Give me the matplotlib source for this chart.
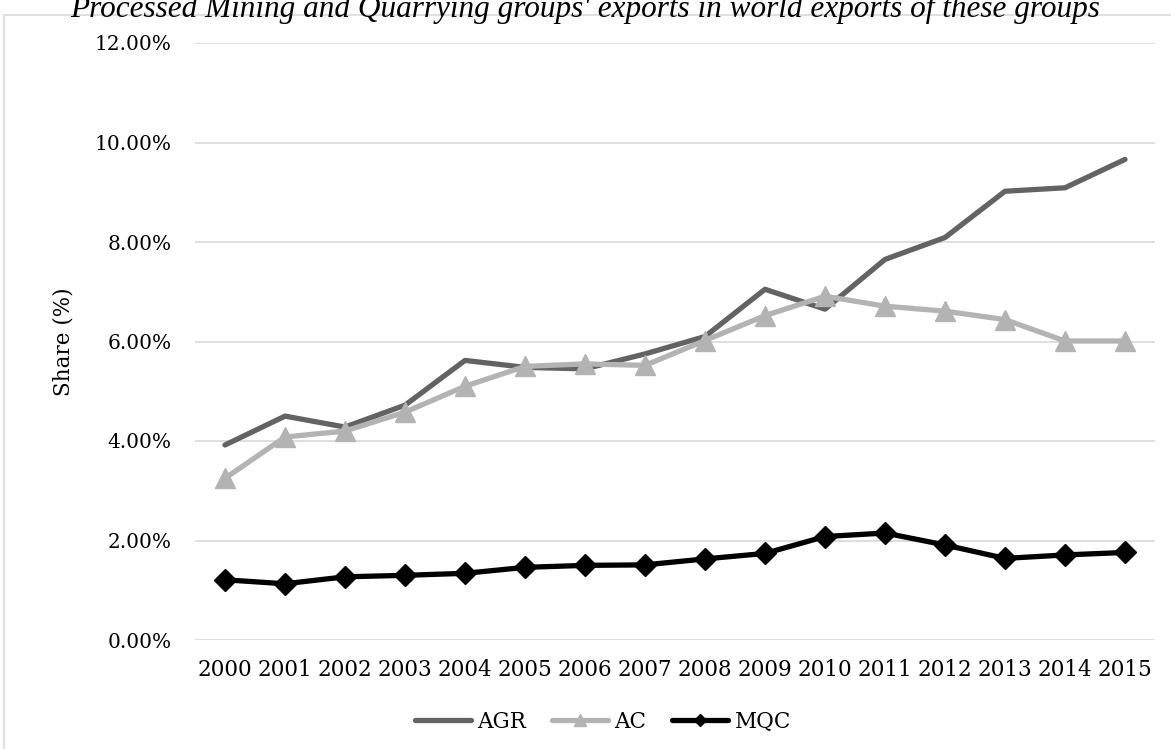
import matplotlib.pyplot as plt
from matplotlib.patches import Rectangle
from matplotlib.ticker import FuncFormatter

years = [str(y) for y in range(2000, 2016)]
agr = [3.92, 4.50, 4.28, 4.72, 5.62, 5.48, 5.45, 5.75, 6.10, 7.05,
       6.65, 7.65, 8.09, 9.02, 9.09, 9.66]
ac = [3.25, 4.08, 4.20, 4.58, 5.10, 5.50, 5.55, 5.52, 6.02, 6.52,
      6.91, 6.71, 6.61, 6.44, 6.01, 6.01]
mqc = [1.21, 1.13, 1.27, 1.30, 1.34, 1.46, 1.50, 1.51, 1.63, 1.74,
       2.08, 2.15, 1.91, 1.64, 1.71, 1.76]

plt.rcParams["font.family"] = ["DejaVu Serif"]

W, H = 1171, 749
fig = plt.figure(figsize=(W / 100, H / 100), dpi=100)
ax = fig.add_axes([195 / W, 1 - 640 / H, 960 / W, (640 - 43) / H])

# outer chart frame
fig.patches.append(Rectangle((4 / W, -0.05), 1.1, 1 - 15 / H + 0.05,
                             transform=fig.transFigure, fill=False,
                             edgecolor="#d9d9d9", linewidth=1.2))

x = list(range(len(years)))
ax.plot(x, agr, color="#636363", lw=3.8, solid_capstyle="round",
        solid_joinstyle="round", label="AGR")
ax.plot(x, ac, color="#b3b3b3", lw=3.8, marker="^", markersize=14,
        solid_capstyle="round", label="AC")
ax.plot(x, mqc, color="black", lw=3.8, marker="D", markersize=11,
        solid_capstyle="round", label="MQC")

ax.set_xlim(-0.5, len(years) - 0.5)
ax.set_ylim(0, 12)
ax.set_yticks(range(0, 13, 2))
ax.yaxis.set_major_formatter(FuncFormatter(lambda v, p: f"{v:.2f}%"))
ax.set_xticks(x)
ax.set_xticklabels(years)
ax.grid(axis="y", color="#d9d9d9", lw=1.2)
ax.set_axisbelow(True)
for s in ax.spines.values():
    s.set_visible(False)
ax.tick_params(length=0)
ax.tick_params(axis="y", pad=17, labelsize=14.5)
ax.tick_params(axis="x", pad=14, labelsize=15.5)
ax.set_ylabel("Share (%)", fontsize=15.5, labelpad=14)

fig.text(0.5, 1 - 17 / H,
         "Processed Mining and Quarrying groups' exports in world exports of these groups",
         ha="center", va="baseline", fontsize=22.5, style="italic",
         family="Liberation Serif")

fig.legend(loc="center", bbox_to_anchor=(603 / W, 1 - 722 / H), ncol=3,
           frameon=False, fontsize=15.5, handlelength=2.6, columnspacing=1.2,
           handletextpad=0.3, markerscale=0.6)

fig.savefig("out.png", dpi=100)
